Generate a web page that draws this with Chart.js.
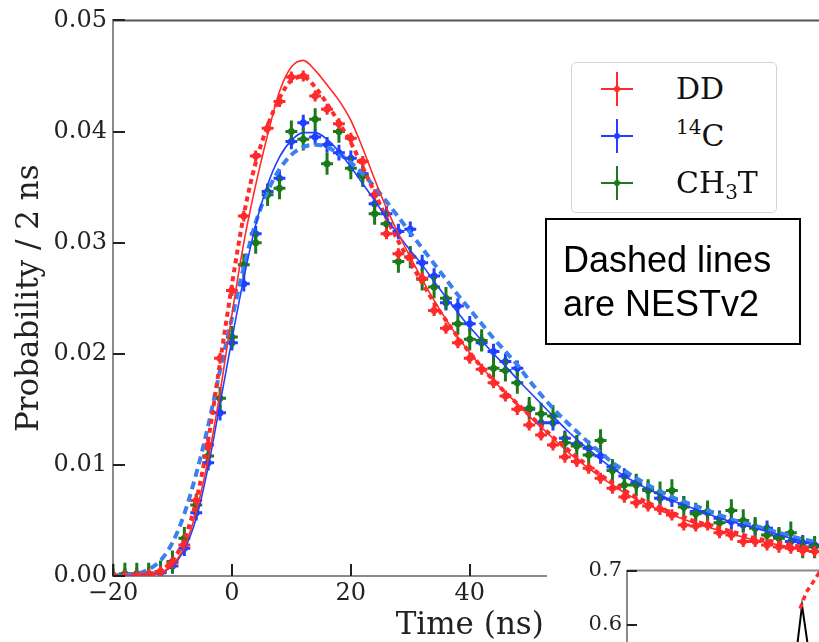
<!DOCTYPE html>
<html>
<head>
<meta charset="utf-8">
<script src="https://cdn.jsdelivr.net/npm/chart.js@4.4.1/dist/chart.umd.min.js"></script>
<style>
    html, body { margin: 0; padding: 0; background: #fff; overflow: hidden; }
    #wrap { position: relative; width: 819px; height: 642px; overflow: hidden; }
    #main { position: absolute; left: 0; top: 0; }
    #insetBg { position: absolute; left: 547px; top: 560px; width: 300px; height: 100px; background: #fff; }
    #inset { position: absolute; left: 547px; top: 560px; }
    .legend {
        position: absolute; left: 571px; top: 62px; width: 204px; height: 149px;
        border: 1px solid #d4d4d4; border-radius: 5px; background: #fff;
        font-family: "DejaVu Serif", serif; font-size: 30px; color: #111;
    }
    .row { position: absolute; left: 0; width: 204px; height: 40px; }
    .row .txt { position: absolute; left: 104px; top: 0; line-height: 40px; white-space: nowrap; }
    .row sup { font-size: 20px; vertical-align: 12px; line-height: 0; }
    .row sub { font-size: 20px; vertical-align: -6px; line-height: 0; }
    .mk { position: absolute; left: 45px; top: 20px; }
    .mk .h { position: absolute; left: -16px; top: -1px; width: 32px; height: 2px; }
    .mk .v { position: absolute; left: -1px; top: -17px; width: 2px; height: 34px; }
    .mk .d { position: absolute; left: -3px; top: -3px; width: 6px; height: 6px; border-radius: 3px; }
    .note {
        position: absolute; left: 545px; top: 218px; width: 256px; height: 127px;
        border: 2px solid #000; background: #fff; box-sizing: border-box;
        font-family: "Liberation Sans", Arial, sans-serif; font-size: 36px; color: #000;
        line-height: 44px; padding: 18px 0 0 16px;
    }
</style>
</head>
<body>
<div id="wrap">
    <canvas id="main" width="830" height="642"></canvas>
    <div class="legend">
        <div class="row" style="top:6px"><div class="mk"><div class="h" style="background:#ff2a2a"></div><div class="v" style="background:#ff2a2a"></div><div class="d" style="background:#ff2a2a"></div></div><div class="txt">DD</div></div>
        <div class="row" style="top:53px"><div class="mk"><div class="h" style="background:#2040ff"></div><div class="v" style="background:#2040ff"></div><div class="d" style="background:#2040ff"></div></div><div class="txt"><sup>14</sup>C</div></div>
        <div class="row" style="top:100px"><div class="mk"><div class="h" style="background:#1a7a1a"></div><div class="v" style="background:#1a7a1a"></div><div class="d" style="background:#1a7a1a"></div></div><div class="txt">CH<sub>3</sub>T</div></div>
    </div>
    <div class="note">Dashed lines<br>are NESTv2</div>
    <div id="insetBg"></div>
    <canvas id="inset" width="400" height="260"></canvas>
</div>
<script>
    // time bins (ns), 2 ns wide
    var times = [-20, -18, -16, -14, -12, -10, -8, -6, -4, -2,
                 0, 2, 4, 6, 8, 10, 12, 14, 16, 18,
                 20, 22, 24, 26, 28, 30, 32, 34, 36, 38,
                 40, 42, 44, 46, 48, 50, 52, 54, 56, 58,
                 60, 62, 64, 66, 68, 70, 72, 74, 76, 78,
                 80, 82, 84, 86, 88, 90, 92, 94, 96, 98];

    // measured pulse shapes
    var ddData = [0, 0, 0, 0.0001, 0.0004, 0.0012, 0.0028, 0.0068, 0.0118, 0.0196,
                  0.0257, 0.0324, 0.0378, 0.0403, 0.0427, 0.0449, 0.0450, 0.0432, 0.0420, 0.0407,
                  0.0394, 0.0373, 0.0343, 0.0308, 0.0290, 0.0287, 0.0268, 0.0239, 0.0223, 0.0210,
                  0.0196, 0.0186, 0.0174, 0.0162, 0.0150, 0.0136, 0.0127, 0.0118, 0.0107, 0.0103,
                  0.0097, 0.0088, 0.0079, 0.0071, 0.0066, 0.0063, 0.0060, 0.0055, 0.0046, 0.0045,
                  0.0046, 0.0039, 0.0037, 0.0031, 0.0031, 0.0028, 0.0026, 0.0025, 0.0023, 0.0022];
    var c14Data = [0, 0, 0, 0.0001, 0.0003, 0.0009, 0.0025, 0.0057, 0.0102, 0.0147,
                   0.0210, 0.0263, 0.0308, 0.0346, 0.0358, 0.0391, 0.0408, 0.0395, 0.0388, 0.0381,
                   0.0376, 0.0362, 0.0335, 0.0326, 0.0310, 0.0312, 0.0282, 0.0270, 0.0246, 0.0243,
                   0.0227, 0.0210, 0.0202, 0.0193, 0.0187, 0.0150, 0.0138, 0.0138, 0.0124, 0.0119,
                   0.0115, 0.0108, 0.0098, 0.0090, 0.0084, 0.0078, 0.0070, 0.0069, 0.0065, 0.0058,
                   0.0057, 0.0052, 0.0049, 0.0046, 0.0044, 0.0043, 0.0036, 0.0031, 0.0030, 0.0028];
    var ch3tData = [0.0001, 0.0002, 0.0002, 0.0002, 0.0004, 0.0013, 0.0034, 0.0064, 0.0108, 0.0160,
                    0.0215, 0.0280, 0.0300, 0.0343, 0.0349, 0.0400, 0.0393, 0.0411, 0.0371, 0.0400,
                    0.0367, 0.0360, 0.0326, 0.0317, 0.0283, 0.0287, 0.0267, 0.0260, 0.0250, 0.0227,
                    0.0213, 0.0212, 0.0187, 0.0185, 0.0174, 0.0151, 0.0146, 0.0144, 0.0120, 0.0117,
                    0.0109, 0.0122, 0.0095, 0.0082, 0.0082, 0.0077, 0.0075, 0.0077, 0.0062, 0.0056,
                    0.0058, 0.0048, 0.0059, 0.0050, 0.0043, 0.0037, 0.0034, 0.0039, 0.0026, 0.0026];

    // model curves: solid = fit, dashed = NESTv2
    var ddModel = [0, 0, 0, 0.0001, 0.0003, 0.0010, 0.0026, 0.0058, 0.0105, 0.0165,
                   0.0235, 0.0300, 0.0352, 0.0397, 0.0436, 0.0458, 0.0464, 0.0455, 0.0442, 0.0428,
                   0.0410, 0.0385, 0.0357, 0.0331, 0.0308, 0.0287, 0.0267, 0.0248, 0.0231, 0.0215,
                   0.0201, 0.0188, 0.0176, 0.0165, 0.0155, 0.0144, 0.0134, 0.0124, 0.0114, 0.0105,
                   0.0097, 0.0089, 0.0082, 0.0075, 0.0069, 0.0064, 0.0059, 0.0055, 0.0051, 0.0047,
                   0.0044, 0.0041, 0.0038, 0.0035, 0.0032, 0.0030, 0.0028, 0.0026, 0.0024, 0.0022];
    var ddNest = [0, 0, 0.0001, 0.0002, 0.0005, 0.0014, 0.0033, 0.0068, 0.0122, 0.0192,
                  0.0262, 0.0325, 0.0372, 0.0405, 0.0430, 0.0446, 0.0449, 0.0440, 0.0425, 0.0408,
                  0.0390, 0.0368, 0.0345, 0.0322, 0.0301, 0.0282, 0.0264, 0.0246, 0.0230, 0.0215,
                  0.0201, 0.0188, 0.0176, 0.0165, 0.0155, 0.0145, 0.0135, 0.0125, 0.0116, 0.0107,
                  0.0099, 0.0091, 0.0084, 0.0077, 0.0071, 0.0066, 0.0061, 0.0057, 0.0053, 0.0049,
                  0.0046, 0.0043, 0.0040, 0.0037, 0.0034, 0.0032, 0.0030, 0.0028, 0.0026, 0.0024];
    var c14Model = [0, 0, 0, 0.0001, 0.0003, 0.0009, 0.0024, 0.0052, 0.0098, 0.0155,
                    0.0213, 0.0268, 0.0316, 0.0352, 0.0377, 0.0392, 0.0399, 0.0399, 0.0393, 0.0382,
                    0.0368, 0.0353, 0.0338, 0.0322, 0.0307, 0.0293, 0.0280, 0.0265, 0.0251, 0.0237,
                    0.0224, 0.0212, 0.0200, 0.0189, 0.0177, 0.0166, 0.0155, 0.0144, 0.0133, 0.0123,
                    0.0114, 0.0105, 0.0097, 0.0090, 0.0084, 0.0078, 0.0073, 0.0068, 0.0064, 0.0060,
                    0.0056, 0.0052, 0.0049, 0.0046, 0.0043, 0.0040, 0.0037, 0.0034, 0.0031, 0.0029];
    var c14Nest = [0, 0.0001, 0.0002, 0.0006, 0.0014, 0.0030, 0.0056, 0.0092, 0.0135, 0.0185,
                   0.0232, 0.0278, 0.0318, 0.0346, 0.0366, 0.0379, 0.0386, 0.0388, 0.0386, 0.0380,
                   0.0372, 0.0362, 0.0350, 0.0337, 0.0323, 0.0309, 0.0295, 0.0281, 0.0267, 0.0253,
                   0.0240, 0.0227, 0.0214, 0.0202, 0.0190, 0.0176, 0.0163, 0.0151, 0.0140, 0.0130,
                   0.0120, 0.0111, 0.0102, 0.0095, 0.0088, 0.0082, 0.0076, 0.0071, 0.0067, 0.0063,
                   0.0059, 0.0055, 0.0051, 0.0048, 0.0045, 0.0042, 0.0039, 0.0036, 0.0033, 0.0031];

    // error bar half widths
    var binHalf = 1;
    var ddErr = 0.0005, c14Err = 0.0007, ch3tErr = 0.0010;

    var xTicks = [-20, 0, 20, 40, 60, 80];
    var yTicks = [0, 0.01, 0.02, 0.03, 0.04, 0.05];

    // inset (partly visible)
    var insetBlackX = [52.5, 54.7, 57.5];
    var insetBlackY = [0.529, 0.636, 0.522];
    var insetRedX = [54.1, 56, 58.75, 60, 64];
    var insetRedY = [0.630, 0.660, 0.684, 0.696, 0.700];
    var insetTicks = [0.3, 0.4, 0.5, 0.6, 0.7];

    var RED = '#ff2a2a', BLUE = '#2040ff', LBLUE = '#3a80f0', GREEN = '#1a7a1a';
    var SERIF = '"DejaVu Serif", serif';

    function pts(xs, ys) {
        return xs.map(function (x, i) { return {x: x, y: ys[i]}; });
    }
    function fmtMinus(v) {
        return v < 0 ? '\u2212' + Math.abs(v) : String(v);
    }

    var errorBars = {
        id: 'errorBars',
        beforeDatasetDraw: function (chart, args) {
            var ds = chart.data.datasets[args.index];
            if (!ds.yErr) return;
            var ctx = chart.ctx, xs = chart.scales.x, ys = chart.scales.y, a = chart.chartArea;
            ctx.save();
            ctx.beginPath();
            ctx.rect(a.left, a.top, a.right - a.left, a.bottom - a.top);
            ctx.clip();
            ctx.strokeStyle = ds.borderColor;
            ctx.lineWidth = 3;
            ctx.beginPath();
            ds.data.forEach(function (p) {
                var px = xs.getPixelForValue(p.x), py = ys.getPixelForValue(p.y);
                ctx.moveTo(xs.getPixelForValue(p.x - ds.xErr), py);
                ctx.lineTo(xs.getPixelForValue(p.x + ds.xErr), py);
                ctx.moveTo(px, ys.getPixelForValue(p.y - ds.yErr));
                ctx.lineTo(px, ys.getPixelForValue(p.y + ds.yErr));
            });
            ctx.stroke();
            ctx.restore();
        }
    };

    // top spine and inward ticks
    var frame = {
        id: 'frame',
        afterDatasetsDraw: function (chart, args, opts) {
            var ctx = chart.ctx, a = chart.chartArea;
            ctx.save();
            ctx.strokeStyle = opts.topColor;
            ctx.lineWidth = 2;
            ctx.beginPath();
            ctx.moveTo(a.left, a.top);
            ctx.lineTo(a.right, a.top);
            ctx.stroke();
            ctx.strokeStyle = '#222';
            ctx.lineWidth = 2;
            ctx.beginPath();
            chart.scales.y.ticks.forEach(function (t) {
                var py = Math.round(chart.scales.y.getPixelForValue(t.value));
                ctx.moveTo(a.left, py);
                ctx.lineTo(a.left + opts.len, py);
            });
            if (opts.xTicks) {
                chart.scales.x.ticks.forEach(function (t) {
                    var px = Math.round(chart.scales.x.getPixelForValue(t.value));
                    ctx.moveTo(px, a.bottom);
                    ctx.lineTo(px, a.bottom - opts.len);
                });
            }
            ctx.stroke();
            ctx.restore();
        }
    };

    function scatterSet(label, ys, color, err, order) {
        return {
            type: 'scatter', label: label, data: pts(times, ys),
            backgroundColor: color, borderColor: color,
            pointRadius: 3.5, pointBorderWidth: 0, pointHoverRadius: 3.5,
            xErr: binHalf, yErr: err, order: order
        };
    }
    function lineSet(label, ys, color, width, dash, order) {
        return {
            type: 'line', label: label, data: pts(times, ys),
            borderColor: color, borderWidth: width, borderDash: dash,
            pointRadius: 0, fill: false, cubicInterpolationMode: 'monotone', order: order
        };
    }

    new Chart(document.getElementById('main'), {
        type: 'scatter',
        data: {
            datasets: [
                lineSet('DD fit', ddModel, RED, 1.6, [], 0),
                lineSet('14C fit', c14Model, BLUE, 1.6, [], 1),
                lineSet('DD NESTv2', ddNest, RED, 4, [5, 4], 2),
                lineSet('14C NESTv2', c14Nest, LBLUE, 4, [8, 5], 3),
                scatterSet('DD', ddData, RED, ddErr, 4),
                scatterSet('CH3T', ch3tData, GREEN, ch3tErr, 5),
                scatterSet('14C', c14Data, BLUE, c14Err, 6)
            ]
        },
        options: {
            responsive: false,
            animation: false,
            devicePixelRatio: 1,
            layout: {padding: {top: 18, right: 3, left: 0, bottom: 0}},
            plugins: {
                legend: {display: false},
                tooltip: {enabled: false},
                frame: {topColor: '#555', len: 12, xTicks: true}
            },
            scales: {
                x: {
                    type: 'linear', min: -20, max: 100,
                    afterBuildTicks: function (s) { s.ticks = xTicks.map(function (v) { return {value: v}; }); },
                    afterFit: function (s) { s.height = 66; },
                    grid: {display: false, drawTicks: false},
                    border: {display: true, color: '#8a8a8a', width: 2},
                    ticks: {
                        padding: 3, color: '#222', maxRotation: 0, autoSkip: false,
                        font: {family: SERIF, size: 24},
                        callback: function (v) { return fmtMinus(v); }
                    },
                    title: {display: true, text: 'Time (ns)', color: '#222',
                            font: {family: SERIF, size: 31}, padding: {top: 0, bottom: -3}}
                },
                y: {
                    type: 'linear', min: 0, max: 0.05,
                    afterBuildTicks: function (s) { s.ticks = yTicks.map(function (v) { return {value: v}; }); },
                    afterFit: function (s) { s.width = 113; },
                    grid: {display: false, drawTicks: false},
                    border: {display: true, color: '#8a8a8a', width: 2},
                    ticks: {
                        padding: 6, color: '#222',
                        font: {family: SERIF, size: 24},
                        callback: function (v) { return v.toFixed(2); }
                    },
                    title: {display: true, text: 'Probability / 2 ns', color: '#222',
                            font: {family: SERIF, size: 31}, padding: {top: 11, bottom: 0}}
                }
            }
        },
        plugins: [errorBars, frame]
    });

    var insetCanvas = document.getElementById('inset');
    var inset = new Chart(insetCanvas, {
        type: 'scatter',
        data: {
            datasets: [
                {type: 'line', label: 'inset data', data: pts(insetBlackX, insetBlackY),
                 borderColor: '#000', borderWidth: 2, pointRadius: 0, fill: false, order: 1},
                {type: 'line', label: 'inset NESTv2', data: pts(insetRedX, insetRedY),
                 borderColor: RED, borderWidth: 3.5, borderDash: [5, 4], pointRadius: 0,
                 fill: false, order: 0}
            ]
        },
        options: {
            responsive: false,
            animation: false,
            devicePixelRatio: 1,
            layout: {padding: {top: 11, right: 0, left: 0, bottom: 25}},
            plugins: {
                legend: {display: false},
                tooltip: {enabled: false},
                frame: {topColor: '#8a8a8a', len: 10, xTicks: false}
            },
            scales: {
                x: {type: 'linear', min: 0, max: 100, display: false},
                y: {
                    type: 'linear', min: 0.3, max: 0.7,
                    afterBuildTicks: function (s) { s.ticks = insetTicks.map(function (v) { return {value: v}; }); },
                    afterFit: function (s) { s.width = 80; },
                    grid: {display: false, drawTicks: false},
                    border: {display: true, color: '#8a8a8a', width: 2},
                    ticks: {
                        padding: 5, color: '#222',
                        font: {family: SERIF, size: 21},
                        callback: function (v) { return v.toFixed(1); }
                    }
                }
            }
        },
        plugins: [frame]
    });
    // pin the inset plot corner to where the reference has it
    insetCanvas.style.left = (627 - inset.chartArea.left) + 'px';
    insetCanvas.style.top = (571 - inset.chartArea.top) + 'px';
</script>
</body>
</html>
